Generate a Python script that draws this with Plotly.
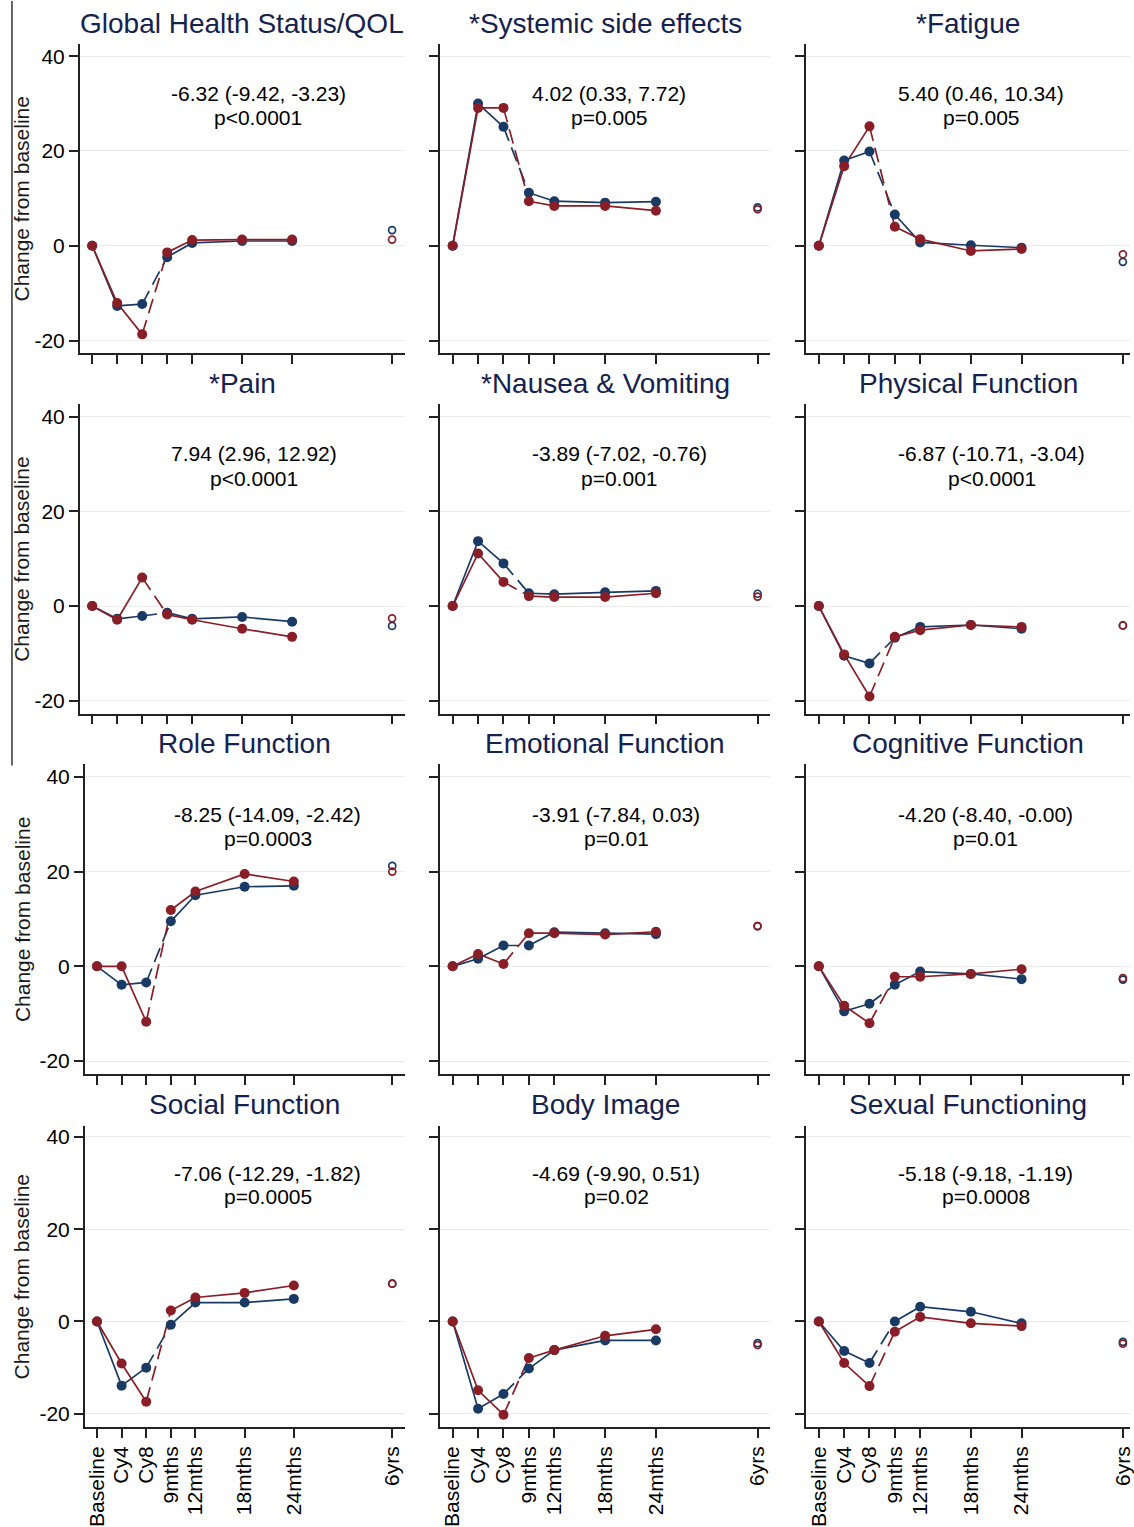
import plotly.graph_objects as go

# ---------------- data ----------------
TIME_LABELS = ["Baseline", "Cy4", "Cy8", "9mths", "12mths", "18mths", "24mths", "6yrs"]
TIME_X = [0, 1, 2, 3, 4, 6, 8, 12]

TITLES = ["Global Health Status/QOL", "*Systemic side effects", "*Fatigue",
          "*Pain", "*Nausea & Vomiting", "Physical Function",
          "Role Function", "Emotional Function", "Cognitive Function",
          "Social Function", "Body Image", "Sexual Functioning"]

EFFECTS = ["-6.32 (-9.42, -3.23)", "4.02 (0.33, 7.72)", "5.40 (0.46, 10.34)",
           "7.94 (2.96, 12.92)", "-3.89 (-7.02, -0.76)", "-6.87 (-10.71, -3.04)",
           "-8.25 (-14.09, -2.42)", "-3.91 (-7.84, 0.03)", "-4.20 (-8.40, -0.00)",
           "-7.06 (-12.29, -1.82)", "-4.69 (-9.90, 0.51)", "-5.18 (-9.18, -1.19)"]
PVALS = ["p<0.0001", "p=0.005", "p=0.005", "p<0.0001", "p=0.001", "p<0.0001",
         "p=0.0003", "p=0.01", "p=0.01", "p=0.0005", "p=0.02", "p=0.0008"]

GHS_BLUE = [0, -12.7, -12.3, -2.4, 0.6, 1.0, 1.0, 3.3]
GHS_RED = [0, -12.1, -18.7, -1.4, 1.2, 1.3, 1.3, 1.3]
SSE_BLUE = [0, 30.0, 25.1, 11.2, 9.4, 9.1, 9.3, 8.1]
SSE_RED = [0, 29.1, 29.1, 9.4, 8.4, 8.4, 7.4, 7.7]
FAT_BLUE = [0, 18.0, 19.9, 6.6, 0.7, 0.1, -0.4, -3.4]
FAT_RED = [0, 16.8, 25.2, 4.0, 1.4, -1.1, -0.7, -1.8]
PAIN_BLUE = [0, -2.7, -2.1, -1.4, -2.7, -2.3, -3.3, -4.2]
PAIN_RED = [0, -2.9, 6.0, -1.8, -2.9, -4.8, -6.5, -2.6]
NV_BLUE = [0, 13.7, 9.0, 2.7, 2.5, 2.9, 3.2, 2.6]
NV_RED = [0, 11.1, 5.1, 2.1, 1.9, 1.9, 2.7, 2.0]
PF_BLUE = [0, -10.5, -12.1, -6.7, -4.4, -4.0, -4.8, -4.1]
PF_RED = [0, -10.2, -19.1, -6.5, -5.1, -4.0, -4.4, -4.1]
RF_BLUE = [0, -3.9, -3.4, 9.5, 15.0, 16.8, 17.0, 21.2]
RF_RED = [0, 0.0, -11.7, 11.9, 15.8, 19.5, 17.9, 20.0]
EF_BLUE = [0, 1.6, 4.4, 4.4, 7.2, 7.0, 6.8, 8.5]
EF_RED = [0, 2.6, 0.5, 7.0, 7.0, 6.7, 7.3, 8.5]
CF_BLUE = [0, -9.5, -7.9, -3.9, -1.1, -1.6, -2.7, -2.8]
CF_RED = [0, -8.3, -12.0, -2.2, -2.2, -1.6, -0.6, -2.5]
SF_BLUE = [0, -13.9, -10.0, -0.7, 4.1, 4.1, 4.9, 8.2]
SF_RED = [0, -9.1, -17.4, 2.4, 5.2, 6.2, 7.8, 8.2]
BI_BLUE = [0, -18.9, -15.7, -10.2, -6.2, -4.1, -4.1, -4.7]
BI_RED = [0, -14.9, -20.2, -7.9, -6.2, -3.1, -1.7, -5.1]
SX_BLUE = [0, -6.4, -9.0, 0.0, 3.2, 2.1, -0.4, -4.4]
SX_RED = [0, -9.0, -14.0, -2.2, 1.0, -0.4, -1.0, -4.8]

BLUE_SERIES = [GHS_BLUE, SSE_BLUE, FAT_BLUE, PAIN_BLUE, NV_BLUE, PF_BLUE,
               RF_BLUE, EF_BLUE, CF_BLUE, SF_BLUE, BI_BLUE, SX_BLUE]
RED_SERIES = [GHS_RED, SSE_RED, FAT_RED, PAIN_RED, NV_RED, PF_RED,
              RF_RED, EF_RED, CF_RED, SF_RED, BI_RED, SX_RED]
Y_TICKS = [-20, 0, 20, 40]
Y_TICK_TEXT = ["-20", "0", "20", "40"]

# ---------------- style / layout ----------------
W, H = 1134, 1527
BLUE = "rgb(26,58,102)"
RED = "rgb(138,30,38)"
TITLE_COLOR = "rgb(20,34,80)"
FONT = "Liberation Sans, Arial, sans-serif"
AXC = "#222222"

COL_X = {0: [(80, 406), (80, 406), (85, 406), (85, 406)],
         1: [(441.5, 773)] * 4,
         2: [(809, 1134)] * 4}
ROW_Y = [(43, 353), (404, 714), (765, 1075), (1127, 1429)]
ROW_YR = [[-22.7, 42.6], [-22.7, 42.6], [-22.7, 42.6], [-22.9, 42.4]]
TITLE_Y = [23, 383, 744, 1106]

CW = {'-': .333, '.': .278, ',': .278, ' ': .278, '(': .333, ')': .333,
      '<': .584, '=': .584, 'p': .556}


def text_w(s, size):
    return sum(CW.get(c, .556) for c in s) * size


fig = go.Figure()
layout = dict(width=W, height=H, margin=dict(l=0, r=0, t=0, b=0),
              paper_bgcolor="white", plot_bgcolor="white", showlegend=False,
              font=dict(family=FONT, color="black"))
annotations = []

for i in range(12):
    r, c = divmod(i, 3)
    n = i + 1
    xl, xr = COL_X[c][r]
    yt, yb = ROW_Y[r]
    xrng = [-0.5, 12.5] if c < 2 else [-0.5, 12.28]
    ppu = (xr - xl) / (xrng[1] - xrng[0])
    xa = "x" if n == 1 else f"x{n}"
    ya = "y" if n == 1 else f"y{n}"
    layout["xaxis" if n == 1 else f"xaxis{n}"] = dict(
        domain=[xl / W, xr / W], range=xrng, anchor=ya,
        tickvals=TIME_X, ticktext=TIME_LABELS, showticklabels=(r == 3),
        tickangle=-90, ticks="outside", ticklen=9, tickwidth=1.5, tickcolor=AXC,
        ticklabeloverflow="allow",
        showline=True, linecolor=AXC, linewidth=1.5, showgrid=False, zeroline=False,
        tickfont=dict(size=21, color="black", family=FONT), fixedrange=True)
    layout["yaxis" if n == 1 else f"yaxis{n}"] = dict(
        domain=[1 - yb / H, 1 - yt / H], range=ROW_YR[r], anchor=xa,
        tickvals=Y_TICKS, ticktext=Y_TICK_TEXT, showticklabels=(c == 0),
        ticks="outside", ticklen=9, tickwidth=1.5, tickcolor=AXC,
        showline=True, linecolor=AXC, linewidth=1.5,
        showgrid=True, gridcolor="rgb(236,236,236)", gridwidth=1, zeroline=False,
        tickfont=dict(size=21, color="black", family=FONT), fixedrange=True)

    for vals, col in ((BLUE_SERIES[i], BLUE), (RED_SERIES[i], RED)):
        fig.add_trace(go.Scatter(x=TIME_X[0:3], y=vals[0:3], xaxis=xa, yaxis=ya,
                                 mode="lines", line=dict(color=col, width=1.7)))
        fig.add_trace(go.Scatter(x=TIME_X[2:4], y=vals[2:4], xaxis=xa, yaxis=ya,
                                 mode="lines", line=dict(color=col, width=1.7,
                                                         dash="15px,7px")))
        fig.add_trace(go.Scatter(x=TIME_X[3:7], y=vals[3:7], xaxis=xa, yaxis=ya,
                                 mode="lines", line=dict(color=col, width=1.7)))
    for vals, col in ((BLUE_SERIES[i], BLUE), (RED_SERIES[i], RED)):
        fig.add_trace(go.Scatter(x=TIME_X[0:7], y=vals[0:7], xaxis=xa, yaxis=ya,
                                 mode="markers", marker=dict(color=col, size=10)))
        fig.add_trace(go.Scatter(x=TIME_X[7:8], y=vals[7:8], xaxis=xa, yaxis=ya,
                                 mode="markers",
                                 marker=dict(symbol="circle-open", color=col, size=7,
                                             line=dict(width=1.7, color=col))))

    annotations.append(dict(xref="paper", yref="paper", x=(xl + xr) / 2 / W,
                            y=1 - TITLE_Y[r] / H, text=TITLES[i], showarrow=False,
                            xanchor="center", yanchor="middle",
                            font=dict(size=28, color=TITLE_COLOR, family=FONT)))
    cx = 3.15 + text_w(EFFECTS[i], 21) / 2 / ppu
    annotations.append(dict(xref=xa, yref=ya, x=cx, y=32.1, text=EFFECTS[i],
                            showarrow=False, xanchor="center", yanchor="middle",
                            font=dict(size=21, color="black", family=FONT)))
    annotations.append(dict(xref=xa, yref=ya, x=cx, y=27.0, text=PVALS[i],
                            showarrow=False, xanchor="center", yanchor="middle",
                            font=dict(size=21, color="black", family=FONT)))
    if c == 0:
        annotations.append(dict(xref="paper", yref="paper", x=22 / W,
                                y=1 - (yt + yb) / 2 / H, text="Change from baseline",
                                textangle=-90, showarrow=False, xanchor="center",
                                yanchor="middle",
                                font=dict(size=21, color="#1a1a1a", family=FONT)))

layout["annotations"] = annotations
layout["shapes"] = [dict(type="line", xref="paper", yref="paper",
                         x0=12 / W, x1=12 / W, y0=1 - 766 / H, y1=1,
                         line=dict(color="#333333", width=1.5))]
fig.update_layout(**layout)
fig.write_html("out.html")
